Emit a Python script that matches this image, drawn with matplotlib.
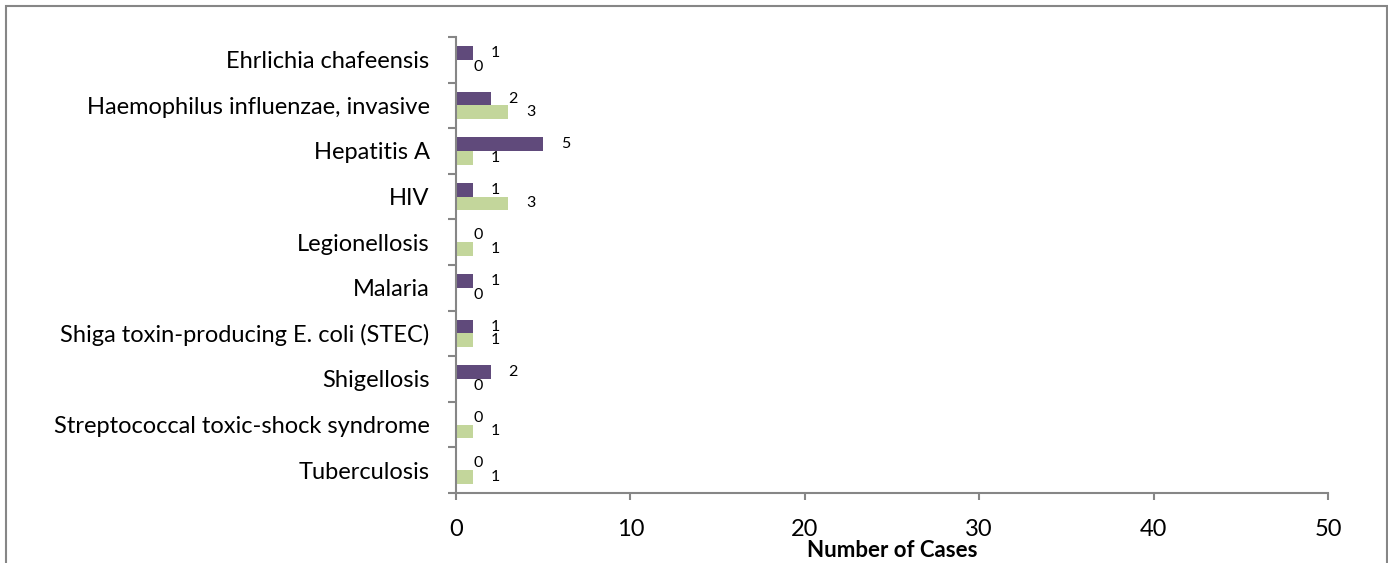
import matplotlib
matplotlib.use("Agg")
import matplotlib.pyplot as plt
from matplotlib.patches import Rectangle
import numpy as np

plt.rcParams["font.family"] = ["Lato", "DejaVu Sans"]

# ─── Data ────────────────────────────────────────────────────────────────────
categories = [
    "Ehrlichia chafeensis",
    "Haemophilus influenzae, invasive",
    "Hepatitis A",
    "HIV",
    "Legionellosis",
    "Malaria",
    "Shiga toxin-producing E. coli (STEC)",
    "Shigellosis",
    "Streptococcal toxic-shock syndrome",
    "Tuberculosis",
]
series_purple = [1, 2, 5, 1, 0, 1, 1, 2, 0, 0]
series_green = [0, 3, 1, 3, 1, 0, 1, 0, 1, 1]
x_ticks = [0, 10, 20, 30, 40, 50]

PURPLE = "#604A7B"
GREEN = "#C3D69B"
AXIS_GRAY = "#868686"

fig = plt.figure(figsize=(13.88, 5.63), dpi=100)
ax = fig.add_axes([456 / 1388, 1 - 493 / 563, (1328 - 456) / 1388, (493 - 37) / 563])

# outer chart border (bottom edge falls outside the picture)
fig.patches.append(Rectangle((6 / 1388, -0.1), 1380.5 / 1388, 1.1 - 6.5 / 563,
                             transform=fig.transFigure, fill=False,
                             edgecolor=AXIS_GRAY, linewidth=1.5))

y = np.arange(len(categories))
h = 0.3
ax.barh(y - h / 2, series_purple, height=h, color=PURPLE)
ax.barh(y + h / 2, series_green, height=h, color=GREEN)

for yi, v in zip(y - h / 2, series_purple):
    ax.annotate(str(v), (v, yi), xytext=(16, 0), textcoords="offset points",
                ha="center", va="center", fontsize=11.5)
for yi, v in zip(y + h / 2, series_green):
    ax.annotate(str(v), (v, yi), xytext=(16, 0), textcoords="offset points",
                ha="center", va="center", fontsize=11.5)

ax.set_xlim(0, 50)
ax.set_ylim(len(categories) - 0.5, -0.5)
ax.set_xticks(x_ticks)
ax.set_yticks(y)
ax.set_yticklabels(categories, fontsize=17)
ax.set_yticks(np.arange(len(categories) + 1) - 0.5, minor=True)
ax.tick_params(axis="y", which="major", length=0, pad=19)
ax.tick_params(axis="y", which="minor", length=6, width=1.5, color=AXIS_GRAY)
ax.tick_params(axis="x", length=5, width=1.5, color=AXIS_GRAY, labelsize=17, pad=14)

for s in ["top", "right"]:
    ax.spines[s].set_visible(False)
for s in ["left", "bottom"]:
    ax.spines[s].set_color(AXIS_GRAY)
    ax.spines[s].set_linewidth(1.5)

ax.set_xlabel("Number of Cases", fontsize=16, fontweight="bold", labelpad=0)

fig.savefig("out.png", dpi=100)
